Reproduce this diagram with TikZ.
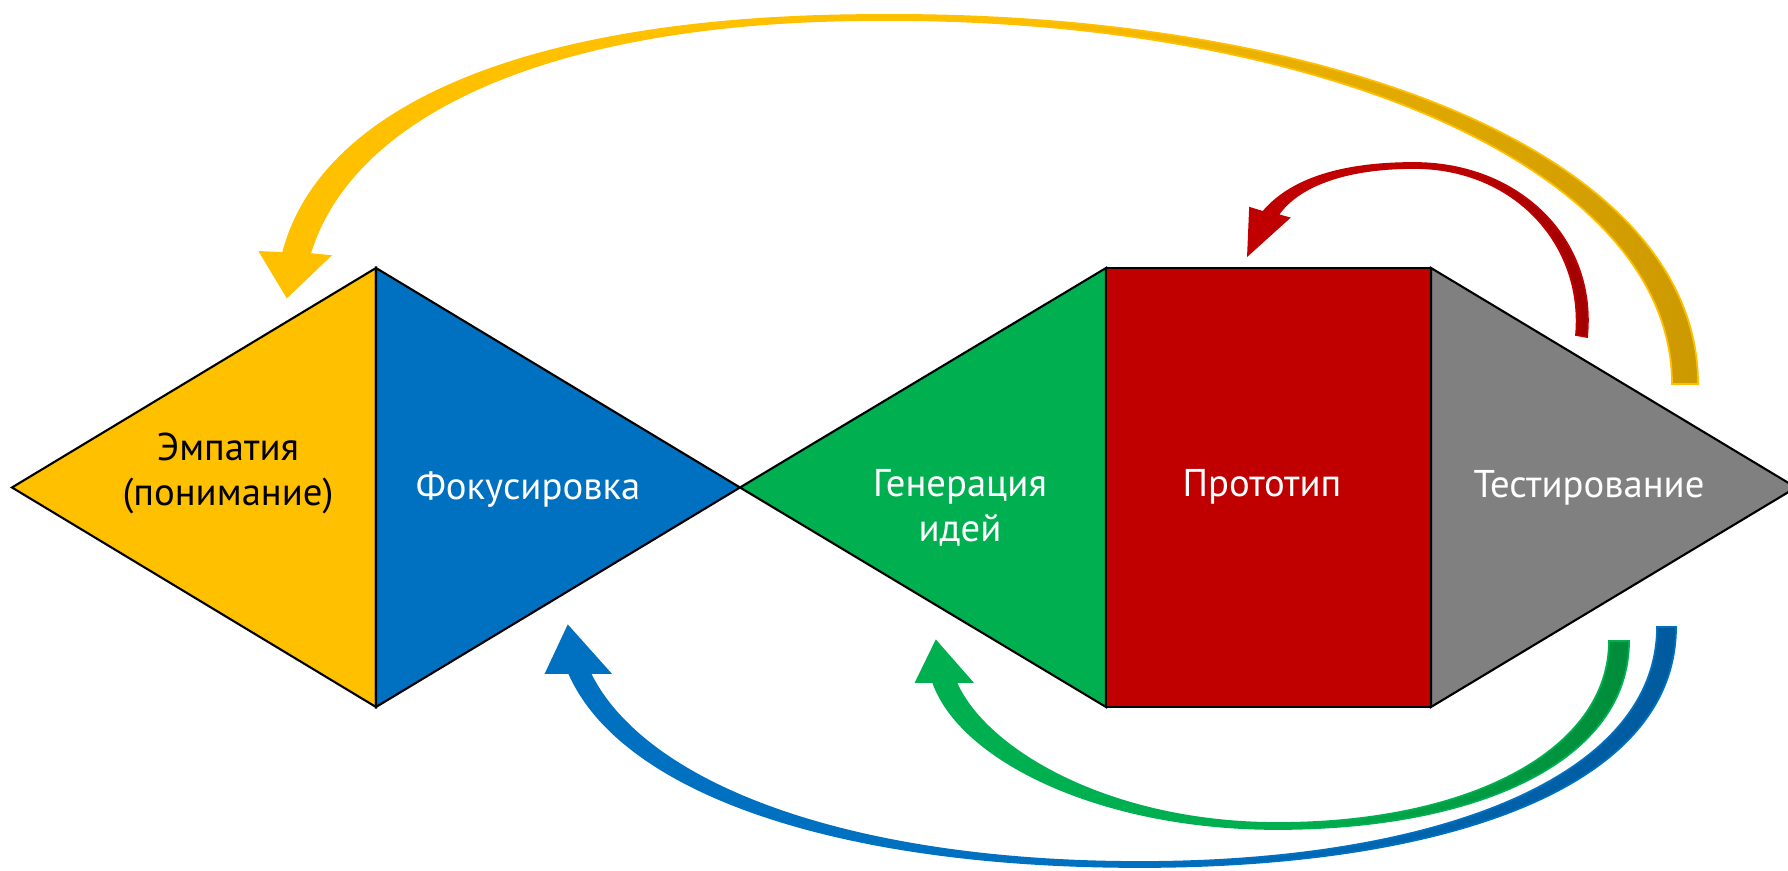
\documentclass[tikz,border=0pt]{standalone}
\usepackage{fontspec}
\setmainfont{PT Sans}
\definecolor{empyellow}{HTML}{FFC000}
\definecolor{focblue}{HTML}{0070C0}
\definecolor{gengreen}{HTML}{00B050}
\definecolor{protored}{HTML}{C00000}
\definecolor{testgrey}{HTML}{808080}
\definecolor{yellowdark}{HTML}{CC9900}
\definecolor{bluedark}{HTML}{005A9E}
\definecolor{greendark}{HTML}{008C3A}
\definecolor{reddark}{HTML}{A00000}
\tikzset{
  stage/.style = {draw=black, line width=0.6pt},
  stagetext/.style = {align=center, anchor=base, inner sep=0pt, text=white, font=\fontsize{11}{12.8}\selectfont},
  backarrow/.style 2 args = {draw=#1, line width=0.5pt, left color=#1, right color=#2, middle color=#1}
}

\begin{document}
\begin{tikzpicture}[x=0.01cm, y=-0.01cm]
    \clip (0,0) rectangle (1788,871);
    \coordinate (ltip) at (12,487.5);
    \coordinate (mtip) at (740,487.5);
    \coordinate (rtip) at (1796,487.5);
    \coordinate (a1) at (376,268); \coordinate (a2) at (376,707);
    \coordinate (b1) at (1106,268); \coordinate (b2) at (1106,707);
    \coordinate (c1) at (1431,268); \coordinate (c2) at (1431,707);

    \filldraw[stage, fill=empyellow] (ltip) -- (a1) -- (a2) -- cycle;
    \filldraw[stage, fill=focblue] (a1) -- (mtip) -- (a2) -- cycle;
    \filldraw[stage, fill=gengreen] (mtip) -- (b1) -- (b2) -- cycle;
    \filldraw[stage, fill=protored] (b1) rectangle (c2);
    \filldraw[stage, fill=testgrey] (c1) -- (rtip) -- (c2) -- cycle;

    \node[stagetext, text=black] (emp) at (228,506) {Эмпатия\\(понимание)};
    \node[stagetext] (foc) at (528,500) {Фокусировка};
    \node[stagetext] (gen) at (960,542) {Генерация\\идей};
    \node[stagetext] (proto) at (1262,497) {Прототип};
    \node[stagetext] (test) at (1589,498) {Тестирование};

    % back loops
    \path[backarrow={empyellow}{yellowdark}] (1698,384) .. controls (1698,150) and (1320,12) .. (880,15)
        .. controls (520,15) and (320,110) .. (283,253) -- (260,252) -- (287,297) -- (330,256) -- (310,254)
        .. controls (350,120) and (540,20) .. (880,20) .. controls (1310,18) and (1672,165) .. (1672,384) -- cycle;
    \path[backarrow={protored}{reddark}] (1587,337) .. controls (1597,240) and (1520,163) .. (1414,163)
        .. controls (1340,163) and (1290,180) .. (1263,212) -- (1250,208) -- (1248,255) -- (1289,218) -- (1278,215)
        .. controls (1298,186) and (1345,168) .. (1414,168) .. controls (1515,168) and (1584,245) .. (1576,335) -- cycle;
    \path[backarrow={gengreen}{greendark}] (1629,641) .. controls (1629,760) and (1480,829) .. (1277,829)
        .. controls (1100,829) and (960,760) .. (933,682) -- (916,682) -- (936,641) -- (972,682) -- (956,682)
        .. controls (985,750) and (1110,823) .. (1277,823) .. controls (1470,823) and (1609,750) .. (1609,641) -- cycle;
    \path[backarrow={focblue}{bluedark}] (1676,627) .. controls (1676,790) and (1440,867) .. (1140,867)
        .. controls (830,867) and (620,790) .. (569,673) -- (546,673) -- (568,626) -- (610,673) -- (590,673)
        .. controls (645,785) and (850,862) .. (1140,862) .. controls (1430,862) and (1657,780) .. (1657,627) -- cycle;
\end{tikzpicture}
\end{document}
